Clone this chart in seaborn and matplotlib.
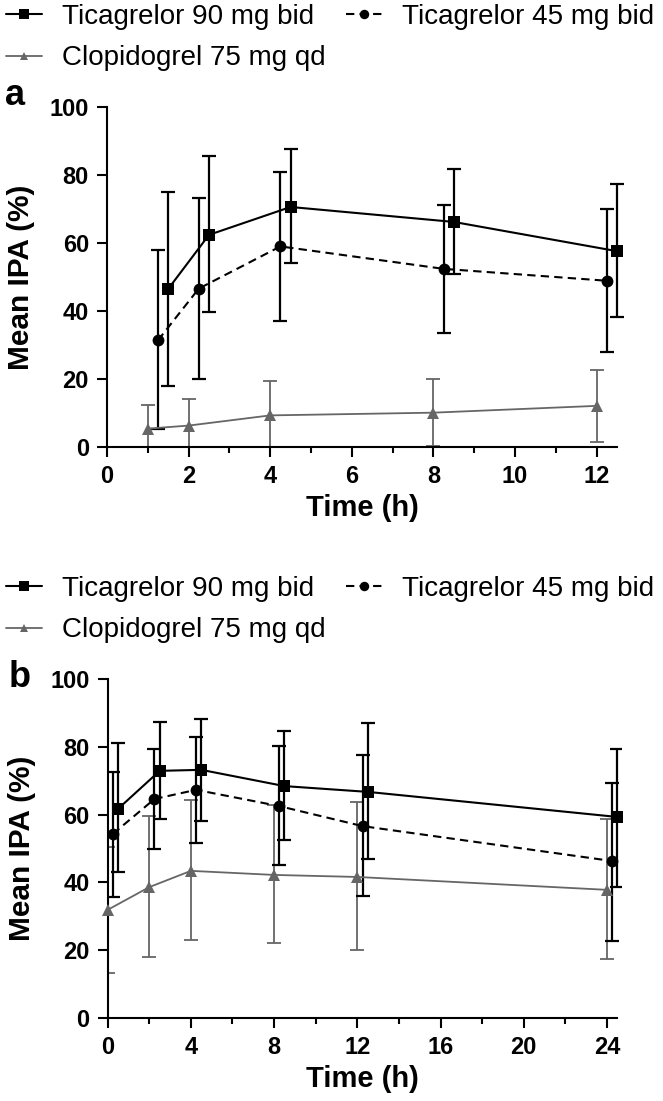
import numpy as np
import pandas as pd
import seaborn as sns
import matplotlib.pyplot as plt

# Panel a: IPA over 12 h (time in h, mean and error bar ends in %)
a_t90_time = [1.5, 2.5, 4.5, 8.5, 12.5]
a_t90_mean = [46.5, 62.4, 70.6, 66.2, 57.6]
a_t90_low = [18.0, 39.7, 54.0, 50.9, 38.2]
a_t90_high = [75.0, 85.6, 87.6, 81.8, 77.4]

a_t45_time = [1.25, 2.25, 4.25, 8.25, 12.25]
a_t45_mean = [31.4, 46.6, 59.0, 52.4, 48.9]
a_t45_low = [5.2, 20.0, 37.1, 33.5, 27.8]
a_t45_high = [58.0, 73.3, 80.8, 71.3, 70.0]

a_clop_time = [1, 2, 4, 8, 12]
a_clop_mean = [5.4, 6.3, 9.3, 10.1, 12.1]
a_clop_low = [-1.5, -1.5, -0.8, 0.3, 1.6]
a_clop_high = [12.3, 14.1, 19.4, 20.0, 22.6]

# Panel b: IPA over 24 h
b_t90_time = [0.5, 2.5, 4.5, 8.5, 12.5, 24.5]
b_t90_mean = [61.7, 72.9, 73.2, 68.4, 66.7, 59.3]
b_t90_low = [43.0, 58.7, 58.1, 52.5, 46.9, 38.6]
b_t90_high = [81.1, 87.3, 88.2, 84.7, 87.0, 79.4]

b_t45_time = [0.25, 2.25, 4.25, 8.25, 12.25, 24.25]
b_t45_mean = [54.3, 64.6, 67.3, 62.5, 56.6, 46.3]
b_t45_low = [35.7, 49.8, 51.6, 45.0, 36.0, 22.7]
b_t45_high = [72.6, 79.4, 82.9, 80.2, 77.6, 69.3]

b_clop_time = [0, 2, 4, 8, 12, 24]
b_clop_mean = [31.9, 38.6, 43.4, 42.2, 41.6, 37.8]
b_clop_low = [13.3, 18.0, 23.0, 22.0, 20.0, 17.4]
b_clop_high = [50.4, 59.6, 64.3, 62.8, 63.7, 58.7]

labels = ["Ticagrelor 90 mg bid", "Ticagrelor 45 mg bid", "Clopidogrel 75 mg qd"]
gray = "#666666"

sns.set_style("ticks", {"text.color": "black", "axes.labelcolor": "black",
                        "xtick.color": "black", "ytick.color": "black",
                        "axes.edgecolor": "black"})
plt.rcParams['font.family'] = ['Liberation Sans', 'DejaVu Sans']
plt.rcParams['font.weight'] = 'bold'


def draw_panel(ax, data, xend, xmax, major, minor, letter, letter_xy, legend_top):
    styles = [
        dict(color="black", marker="s", markersize=9, linestyle="-", linewidth=1.5),
        dict(color="black", marker="o", markersize=8.5, linestyle=(0, (4, 2.5)), linewidth=1.5),
        dict(color=gray, marker="^", markersize=8, linestyle="-", linewidth=1.3),
    ]
    # draw clopidogrel first so ticagrelor sits on top
    for i in [2, 0, 1]:
        t, m, lo, hi = data[i]
        st = styles[i]
        m = np.array(m)
        yerr = [m - np.array(lo), np.array(hi) - m]
        ax.errorbar(t, m, yerr=yerr, fmt="none", ecolor=st["color"],
                    elinewidth=1.6 if i < 2 else 1.3, capsize=5,
                    capthick=1.6 if i < 2 else 1.3, zorder=2)
        df = pd.DataFrame({"time": t, "ipa": m})
        sns.lineplot(data=df, x="time", y="ipa", ax=ax, label=labels[i],
                     markeredgewidth=0, zorder=3, clip_on=False, **st)

    ax.set_xticks(np.arange(0, xend, major))
    ax.set_xticks(np.arange(minor, xend, major), minor=True)
    ax.set_yticks(np.arange(0, 101, 20))
    ax.set_xlim(0, xmax)
    ax.set_ylim(0, 100)
    sns.despine(ax=ax)
    ax.spines['bottom'].set_bounds(0, xend)
    ax.spines['left'].set_bounds(0, 100)
    for s in ['bottom', 'left']:
        ax.spines[s].set_linewidth(1.5)
    ax.tick_params(which='major', length=7, width=1.5, labelsize=17, pad=6)
    ax.tick_params(axis='x', which='minor', length=4.5, width=1.5)

    ax.set_xlabel("Time (h)", fontsize=21, fontweight='bold')
    ax.set_ylabel("Mean IPA (%)", fontsize=21.5, fontweight='bold')
    w = ax.get_position().width * fig.get_figwidth() * fig.dpi
    h = ax.get_position().height * fig.get_figheight() * fig.dpi
    ax.yaxis.set_label_coords(-72 / w, 0.5)
    ax.xaxis.set_label_coords(xend / 2 / xmax, -47 / h)

    handles, labs = ax.get_legend_handles_labels()
    ax.get_legend().remove()
    order = [labs.index(labels[0]), labs.index(labels[2]), labs.index(labels[1])]
    fig.legend([handles[k] for k in order], [labs[k] for k in order],
               loc="upper left", bbox_to_anchor=(6 / 663, legend_top), ncol=2,
               frameon=False, borderpad=0, borderaxespad=0, handlelength=1.3,
               handletextpad=0.7, columnspacing=0.75, labelspacing=0.55,
               markerscale=0.8, prop={'size': 20, 'weight': 'normal'})
    fig.text(letter_xy[0], letter_xy[1], letter, fontsize=26, fontweight='bold',
             ha='center', va='baseline')


fig = plt.figure(figsize=(6.63, 11.01), dpi=100)
ax_a = fig.add_axes([0.1614, 0.594, 0.7815, 0.3088])
ax_b = fig.add_axes([0.1624, 0.0754, 0.775, 0.3079])

panel_a = [(a_t90_time, a_t90_mean, a_t90_low, a_t90_high),
           (a_t45_time, a_t45_mean, a_t45_low, a_t45_high),
           (a_clop_time, a_clop_mean, a_clop_low, a_clop_high)]
panel_b = [(b_t90_time, b_t90_mean, b_t90_low, b_t90_high),
           (b_t45_time, b_t45_mean, b_t45_low, b_t45_high),
           (b_clop_time, b_clop_mean, b_clop_low, b_clop_high)]

draw_panel(ax_a, panel_a, 12.5, 12.7, 2, 1, "a", (0.0226, 0.9046), 1.0 - 4 / 1101)
draw_panel(ax_b, panel_b, 24.5, 24.7, 4, 2, "b", (0.030, 0.376), 0.4805 - 4 / 1101)

fig.savefig("out.png", dpi=100)
